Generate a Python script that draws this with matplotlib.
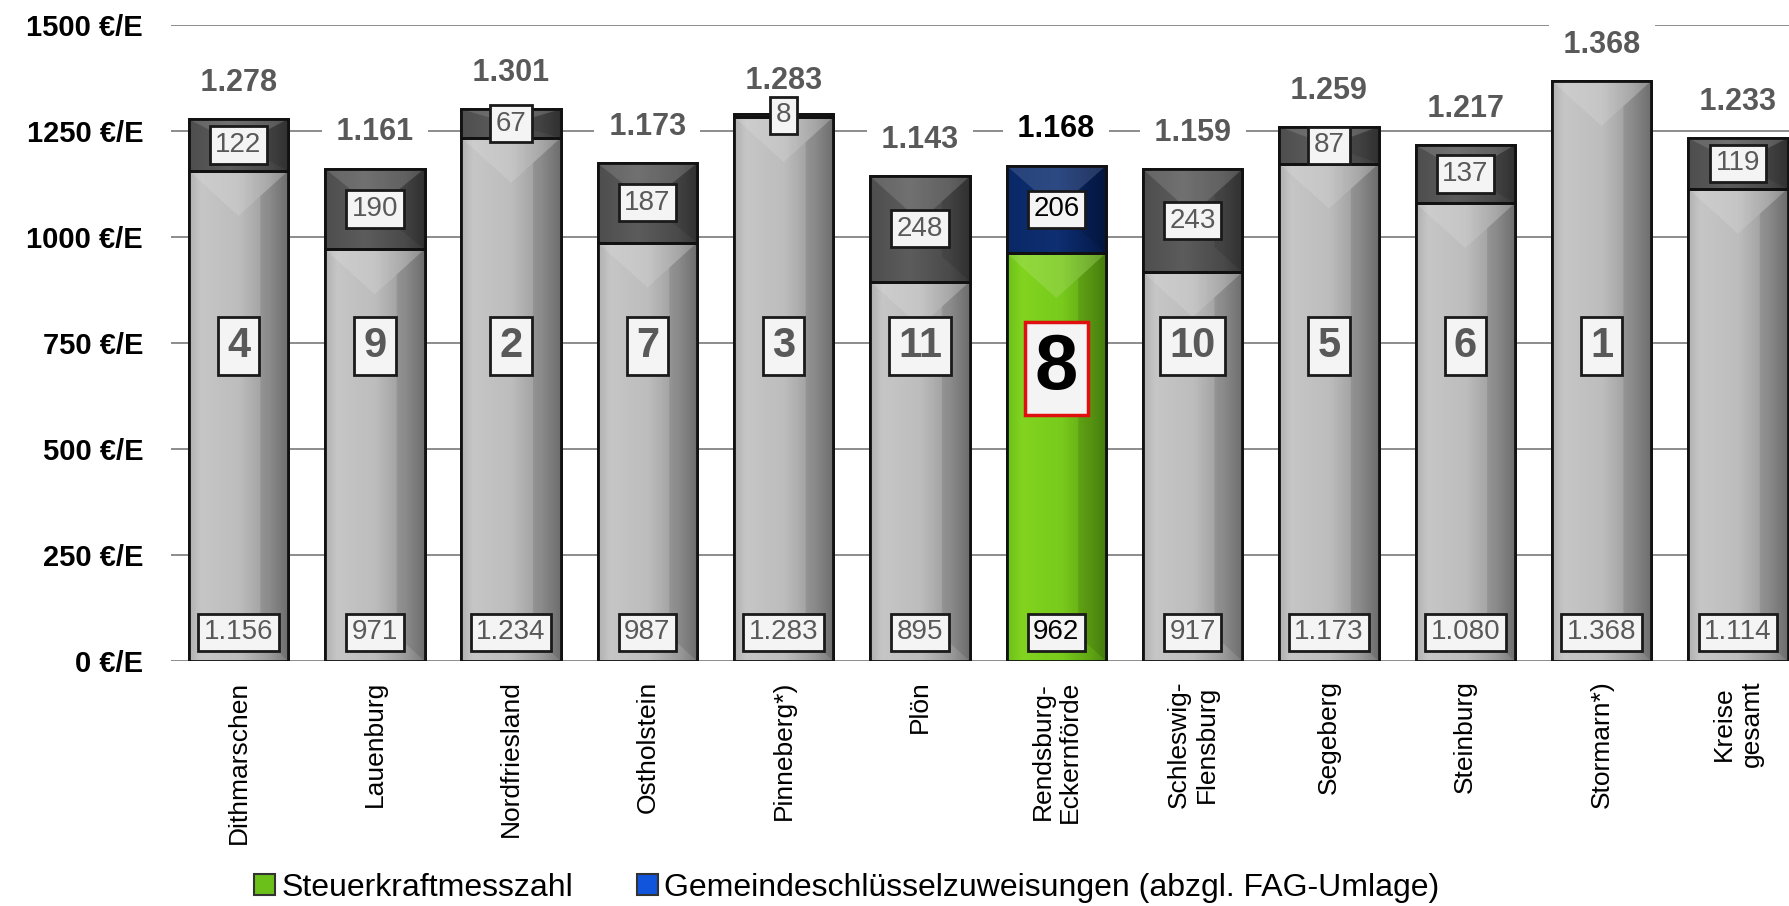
import numpy as np
import matplotlib
matplotlib.use("Agg")
import matplotlib.pyplot as plt
from matplotlib.colors import LinearSegmentedColormap
from matplotlib.patches import Patch, Polygon

plt.rcParams['font.family'] = ['Liberation Sans', 'DejaVu Sans']

categories = ['Dithmarschen', 'Lauenburg', 'Nordfriesland', 'Ostholstein', 'Pinneberg*)',
              'Plön', 'Rendsburg-\nEckernförde', 'Schleswig-\nFlensburg', 'Segeberg',
              'Steinburg', 'Stormarn*)', 'Kreise\ngesamt']
steuerkraft = [1156, 971, 1234, 987, 1283, 895, 962, 917, 1173, 1080, 1368, 1114]
schluessel = [122, 190, 67, 187, 8, 248, 206, 243, 87, 137, 0, 119]
totals = [1278, 1161, 1301, 1173, 1283, 1143, 1168, 1159, 1259, 1217, 1368, 1233]
ranks = [4, 9, 2, 7, 3, 11, 8, 10, 5, 6, 1, None]
yticks = [0, 250, 500, 750, 1000, 1250, 1500]
highlight = 6

def de(v):
    return f"{v:,}".replace(',', '.')

fig = plt.figure(figsize=(17.89, 9.06), dpi=100)
ax = fig.add_axes([171/1789, 1-661/906, 1-171/1789, (661-25)/906])
ax.set_xlim(-0.495, 11.375)
ax.set_ylim(0, 1500)

x = np.arange(len(categories))
W = 0.73

cm_gray = LinearSegmentedColormap.from_list('g', [(0, '#b0b0b0'), (0.12, '#c6c6c6'), (0.5, '#bdbdbd'), (0.8, '#9c9c9c'), (1, '#7a7a7a')])
cm_dark = LinearSegmentedColormap.from_list('d', [(0, '#4e4e4e'), (0.4, '#5c5c5c'), (0.8, '#4a4a4a'), (1, '#363636')])
cm_green = LinearSegmentedColormap.from_list('gr', [(0, '#6cbf18'), (0.15, '#82d420'), (0.55, '#78ca1c'), (0.85, '#5fa314'), (1, '#4a8a0e')])
cm_navy = LinearSegmentedColormap.from_list('n', [(0, '#0a2866'), (0.5, '#0e2f72'), (1, '#041846')])

grad = np.linspace(0, 1, 256).reshape(1, -1)

# pixel -> data conversion for the bevel
px_x = (11.375 + 0.495) / (1789 - 171)
px_y = 1500 / (661 - 25)

def fill(patch, cmap):
    x0, y0 = patch.get_x(), patch.get_y()
    w, h = patch.get_width(), patch.get_height()
    if h <= 0:
        return
    im = ax.imshow(grad, cmap=cmap, extent=(x0, x0 + w, y0, y0 + h), aspect='auto',
                   zorder=2.5, interpolation='bilinear')
    im.set_clip_path(patch)
    x1, y1 = x0 + w, y0 + h
    xc = x0 + w / 2
    bh = min(45 * px_y, h * 0.5)
    # light V at the top
    ax.add_patch(Polygon([(x0, y1), (x1, y1), (xc, y1 - bh)], closed=True,
                         fc='white', ec='none', alpha=0.13, zorder=2.6))
    # darker right side starting along the V diagonal
    bwr = w * 0.28
    yk = y1 - bh * bwr / (w / 2)
    yb = y0 + min(bh, h * 0.5) * bwr / (w / 2)
    ax.add_patch(Polygon([(x1, y1), (x1, y0), (x1 - bwr, yb), (x1 - bwr, yk)], closed=True,
                         fc='black', ec='none', alpha=0.10, zorder=2.6))

bars1 = ax.bar(x, steuerkraft, W, color='#bbbbbb', edgecolor='#111111', linewidth=2, zorder=2)
bars2 = ax.bar(x, schluessel, W, bottom=steuerkraft, color='#555555', edgecolor='#111111', linewidth=2, zorder=2)
for i, (b1, b2) in enumerate(zip(bars1, bars2)):
    fill(b1, cm_green if i == highlight else cm_gray)
    fill(b2, cm_navy if i == highlight else cm_dark)
# outlines on top
ax.bar(x, steuerkraft, W, facecolor='none', edgecolor='#111111', linewidth=2, zorder=3)
ax.bar(x, [s if s > 0 else np.nan for s in schluessel], W, bottom=steuerkraft,
       facecolor='none', edgecolor='#111111', linewidth=2, zorder=3)

box = dict(boxstyle='square,pad=0.2', fc='#f4f4f4', ec='#1a1a1a', lw=2)
for i in range(len(categories)):
    c = 'black' if i == highlight else '#595959'
    ax.text(x[i], 68, de(steuerkraft[i]), ha='center', va='center', fontsize=20,
            color=c, bbox=box, zorder=5)
    if schluessel[i] > 0:
        ax.text(x[i], steuerkraft[i] + schluessel[i] / 2, de(schluessel[i]), ha='center',
                va='center', fontsize=20, color=c, bbox=box, zorder=5)
    ax.text(x[i], totals[i] + 86, ' ' + de(totals[i]) + ' ', ha='center', va='center',
            fontsize=22, fontweight='bold', color=c,
            bbox=dict(boxstyle='square,pad=0.2', fc='white', ec='none'), zorder=4)
    if ranks[i] is not None:
        if i == highlight:
            ax.text(x[i], 690, str(ranks[i]), ha='center', va='center', fontsize=56,
                    fontweight='bold', color='black', zorder=5,
                    bbox=dict(boxstyle='square,pad=0.13', fc='#f4f4f4', ec='#e01010', lw=2.5))
        else:
            ax.text(x[i], 743, str(ranks[i]), ha='center', va='center', fontsize=30,
                    fontweight='bold', color='#595959', zorder=5,
                    bbox=dict(boxstyle='square,pad=0.22', fc='#f4f4f4', ec='#1a1a1a', lw=2))

ax.set_xlim(-0.495, 11.375)
ax.set_ylim(0, 1500)
ax.set_yticks(yticks)
ax.set_yticklabels([f"{v} €/E" for v in yticks], fontsize=21, fontweight='bold')
ax.set_xticks(x)
ax.set_xticklabels(categories, rotation=90, fontsize=19, va='top', ha='center',
                   multialignment='center')
ax.tick_params(axis='y', length=0, pad=20)
ax.tick_params(axis='x', length=0, pad=14)
ax.grid(axis='y', color='#8c8c8c', linewidth=1.4, zorder=0)
ax.set_axisbelow(True)
for s in ax.spines.values():
    s.set_visible(False)

handles = [Patch(facecolor='#6cc01a', edgecolor='#333333', linewidth=1.5),
           Patch(facecolor='#1155dd', edgecolor='#333333', linewidth=1.5)]
fig.legend(handles, ['Steuerkraftmesszahl', 'Gemeindeschlüsselzuweisungen (abzgl. FAG-Umlage)'],
           loc='center', bbox_to_anchor=(0.4735, 0.02), ncol=2, frameon=False, fontsize=23,
           handlelength=0.65, handleheight=0.65, handletextpad=0.2, columnspacing=2.0)

fig.savefig('out.png', dpi=100)
